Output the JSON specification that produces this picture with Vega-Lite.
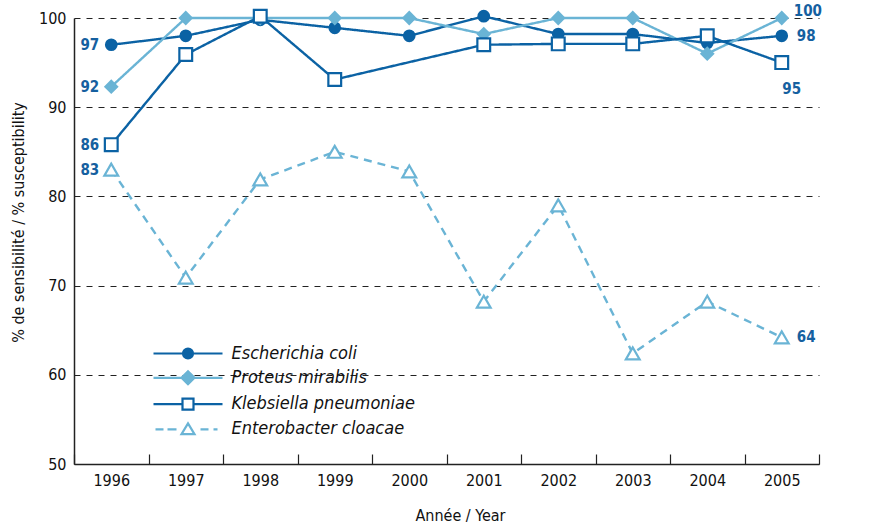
{
  "$schema": "https://vega.github.io/schema/vega-lite/v6.json",
  "width": 745,
  "height": 446,
  "autosize": "none",
  "padding": {"left": 74, "top": 18, "right": 61, "bottom": 61},
  "background": "white",
  "config": {
    "font": "DejaVu Sans Condensed, Roboto, sans-serif",
    "view": {"stroke": null},
    "axis": {"labelFont": "DejaVu Sans Condensed, Roboto, sans-serif", "titleFont": "DejaVu Sans Condensed, Roboto, sans-serif"}
  },
  "data": {
    "values": [
      {"year": "1996", "species": "Escherichia coli", "value": 97.0},
      {"year": "1997", "species": "Escherichia coli", "value": 98.0},
      {"year": "1998", "species": "Escherichia coli", "value": 99.8},
      {"year": "1999", "species": "Escherichia coli", "value": 98.9},
      {"year": "2000", "species": "Escherichia coli", "value": 98.0},
      {"year": "2001", "species": "Escherichia coli", "value": 100.2},
      {"year": "2002", "species": "Escherichia coli", "value": 98.2},
      {"year": "2003", "species": "Escherichia coli", "value": 98.2},
      {"year": "2004", "species": "Escherichia coli", "value": 97.2},
      {"year": "2005", "species": "Escherichia coli", "value": 98.0},
      {"year": "1996", "species": "Proteus mirabilis", "value": 92.3},
      {"year": "1997", "species": "Proteus mirabilis", "value": 100},
      {"year": "1998", "species": "Proteus mirabilis", "value": 100},
      {"year": "1999", "species": "Proteus mirabilis", "value": 100},
      {"year": "2000", "species": "Proteus mirabilis", "value": 100},
      {"year": "2001", "species": "Proteus mirabilis", "value": 98.2},
      {"year": "2002", "species": "Proteus mirabilis", "value": 100},
      {"year": "2003", "species": "Proteus mirabilis", "value": 100},
      {"year": "2004", "species": "Proteus mirabilis", "value": 96.0},
      {"year": "2005", "species": "Proteus mirabilis", "value": 100},
      {"year": "1996", "species": "Klebsiella pneumoniae", "value": 85.8},
      {"year": "1997", "species": "Klebsiella pneumoniae", "value": 95.9},
      {"year": "1998", "species": "Klebsiella pneumoniae", "value": 100.2},
      {"year": "1999", "species": "Klebsiella pneumoniae", "value": 93.1},
      {"year": "2001", "species": "Klebsiella pneumoniae", "value": 97.0},
      {"year": "2002", "species": "Klebsiella pneumoniae", "value": 97.1},
      {"year": "2003", "species": "Klebsiella pneumoniae", "value": 97.1},
      {"year": "2004", "species": "Klebsiella pneumoniae", "value": 98.0},
      {"year": "2005", "species": "Klebsiella pneumoniae", "value": 95.0},
      {"year": "1996", "species": "Enterobacter cloacae", "value": 83.0},
      {"year": "1997", "species": "Enterobacter cloacae", "value": 70.9},
      {"year": "1998", "species": "Enterobacter cloacae", "value": 81.9},
      {"year": "1999", "species": "Enterobacter cloacae", "value": 85.0},
      {"year": "2000", "species": "Enterobacter cloacae", "value": 82.8},
      {"year": "2001", "species": "Enterobacter cloacae", "value": 68.2},
      {"year": "2002", "species": "Enterobacter cloacae", "value": 79.0},
      {"year": "2003", "species": "Enterobacter cloacae", "value": 62.4},
      {"year": "2004", "species": "Enterobacter cloacae", "value": 68.2},
      {"year": "2005", "species": "Enterobacter cloacae", "value": 64.2}
    ]
  },
  "encoding": {
    "x": {
      "field": "year", "type": "ordinal",
      "scale": {"paddingInner": 0, "paddingOuter": 0},
      "axis": {
        "title": "Année / Year",
        "tickBand": "extent",
        "tickSize": -10,
        "tickColor": "#222",
        "tickWidth": 1.2,
        "domainColor": "#222",
        "domainWidth": 1.5,
        "labelAngle": 0,
        "labelFontSize": 16,
        "labelColor": "#111",
        "labelPadding": 18,
        "titleFontSize": 16,
        "titleFontWeight": "normal",
        "titleColor": "#111",
        "titleX": 386,
        "titleY": 51,
        "titleBaseline": "middle",
        "grid": false
      }
    },
    "y": {
      "field": "value", "type": "quantitative",
      "scale": {"domain": [50, 100], "nice": false, "zero": false},
      "axis": {
        "title": "% de sensibilité / % susceptibility",
        "values": [50, 60, 70, 80, 90, 100],
        "ticks": false,
        "labelPadding": 8,
        "labelFontSize": 16,
        "labelColor": "#111",
        "domainColor": "#222",
        "domainWidth": 1.5,
        "grid": true,
        "gridColor": "#222",
        "gridDash": [6, 6],
        "gridWidth": 1,
        "titleFontSize": 16,
        "titleFontWeight": "normal",
        "titleColor": "#111",
        "titleAngle": -90,
        "titleX": -56,
        "titleY": 204,
        "titleAlign": "center",
        "titleBaseline": "middle"
      }
    }
  },
  "layer": [
    {
      "mark": {"type": "line", "strokeWidth": 2.4},
      "encoding": {
        "color": {"field": "species", "type": "nominal", "legend": null,
          "scale": {"domain": ["Escherichia coli", "Proteus mirabilis", "Klebsiella pneumoniae", "Enterobacter cloacae"],
                    "range": ["#0b62a4", "#6ab4d5", "#0b62a4", "#6ab4d5"]}},
        "strokeDash": {"field": "species", "type": "nominal", "legend": null,
          "scale": {"domain": ["Escherichia coli", "Proteus mirabilis", "Klebsiella pneumoniae", "Enterobacter cloacae"],
                    "range": [[1, 0], [1, 0], [1, 0], [8, 6]]}}
      }
    },
    {
      "mark": {"type": "point", "filled": false, "strokeWidth": 2.2, "opacity": 1},
      "encoding": {
        "color": {"field": "species", "type": "nominal", "legend": null,
          "scale": {"domain": ["Escherichia coli", "Proteus mirabilis", "Klebsiella pneumoniae", "Enterobacter cloacae"],
                    "range": ["#0b62a4", "#6ab4d5", "#0b62a4", "#6ab4d5"]}},
        "fill": {"field": "species", "type": "nominal", "legend": null,
          "scale": {"domain": ["Escherichia coli", "Proteus mirabilis", "Klebsiella pneumoniae", "Enterobacter cloacae"],
                    "range": ["#0b62a4", "#6ab4d5", "#ffffff", "#ffffff"]}},
        "shape": {"field": "species", "type": "nominal", "legend": null,
          "scale": {"domain": ["Escherichia coli", "Proteus mirabilis", "Klebsiella pneumoniae", "Enterobacter cloacae"],
                    "range": ["circle", "diamond", "square", "triangle-up"]}},
        "size": {"field": "species", "type": "nominal", "legend": null,
          "scale": {"domain": ["Escherichia coli", "Proteus mirabilis", "Klebsiella pneumoniae", "Enterobacter cloacae"],
                    "range": [110, 190, 110, 130]}}
      }
    },
    {
      "transform": [{"filter": "datum.year === '1996'"}],
      "mark": {"type": "text", "align": "right", "baseline": "middle", "dx": -12, "fontSize": 15, "fontWeight": "bold", "color": "#1560a0"},
      "encoding": {"text": {"field": "value", "type": "quantitative", "format": ".0f"}}
    },
    {
      "transform": [{"filter": "datum.year === '2005' && (datum.species === 'Escherichia coli' || datum.species === 'Enterobacter cloacae')"}],
      "mark": {"type": "text", "align": "left", "baseline": "middle", "dx": 15, "fontSize": 15, "fontWeight": "bold", "color": "#1560a0"},
      "encoding": {"text": {"field": "value", "type": "quantitative", "format": ".0f"}}
    },
    {
      "transform": [{"filter": "datum.year === '2005' && datum.species === 'Proteus mirabilis'"}],
      "mark": {"type": "text", "align": "left", "baseline": "middle", "dx": 12, "dy": -7, "fontSize": 15, "fontWeight": "bold", "color": "#1560a0"},
      "encoding": {"text": {"field": "value", "type": "quantitative", "format": ".0f"}}
    },
    {
      "transform": [{"filter": "datum.year === '2005' && datum.species === 'Klebsiella pneumoniae'"}],
      "mark": {"type": "text", "align": "center", "baseline": "middle", "dx": 10, "dy": 26, "fontSize": 15, "fontWeight": "bold", "color": "#1560a0"},
      "encoding": {"text": {"field": "value", "type": "quantitative", "format": ".0f"}}
    },
    {
      "mark": {"type": "point", "filled": false, "size": 0, "strokeWidth": 2.2},
      "encoding": {
        "color": {"field": "species", "type": "nominal",
          "scale": {"domain": ["Escherichia coli", "Proteus mirabilis", "Klebsiella pneumoniae", "Enterobacter cloacae"],
                    "range": ["#0b62a4", "#6ab4d5", "#0b62a4", "#6ab4d5"]},
          "legend": {
            "title": null, "orient": "none", "legendX": 78, "legendY": 324, "padding": 0,
            "symbolSize": 400, "symbolStrokeWidth": 2.2, "symbolOpacity": 1,
            "symbolOffset": 24.5,
            "labelFontSize": 18, "labelFontStyle": "italic", "labelColor": "#111", "labelOffset": 32, "labelLimit": 400,
            "labelFont": "DejaVu Sans Condensed, Roboto, sans-serif", "rowPadding": 3.3
          }},
        "fill": {"field": "species", "type": "nominal",
          "scale": {"domain": ["Escherichia coli", "Proteus mirabilis", "Klebsiella pneumoniae", "Enterobacter cloacae"],
                    "range": ["#0b62a4", "#6ab4d5", "#ffffff", "#ffffff"]}},
        "shape": {"field": "species", "type": "nominal",
          "scale": {"domain": ["Escherichia coli", "Proteus mirabilis", "Klebsiella pneumoniae", "Enterobacter cloacae"],
                    "range": [
                      "M-3.45,0H3.45M0.5,0A0.5,0.5 0 1,1 -0.5,0A0.5,0.5 0 1,1 0.5,0Z",
                      "M-3.45,0H3.45M0,-0.65L0.65,0L0,0.65L-0.65,0Z",
                      "M-3.45,0H-0.55M0.55,0H3.45M-0.55,-0.55H0.55V0.55H-0.55Z",
                      "M-3.25,0H-2.45M-2.05,0H-1.15M1.25,0H2.05M2.55,0H2.95M0,-0.6L0.65,0.48L-0.65,0.48Z"
                    ]}}
      }
    }
  ],
  "resolve": {"scale": {"color": "independent", "fill": "independent", "shape": "independent", "size": "independent", "strokeDash": "independent"}}
}
